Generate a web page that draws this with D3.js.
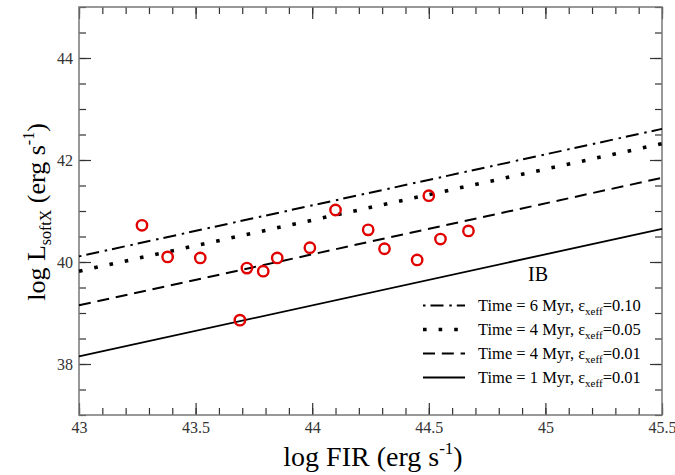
<!DOCTYPE html>
<html>
<head>
<meta charset="utf-8">
<script src="https://cdn.jsdelivr.net/npm/d3@7"></script>
<style>
  html, body { margin: 0; padding: 0; background: #fff; }
  svg { display: block; }
  text { font-family: "Liberation Serif", "DejaVu Serif", serif; }
</style>
</head>
<body>
<svg id="chart" width="675" height="475"></svg>
<script>
// Observed galaxies: log FIR vs log soft X-ray luminosity
const logFIR = [43.27, 43.38, 43.52, 43.72, 43.79, 43.85, 43.99, 44.10, 44.24, 44.31, 44.45, 44.50, 44.55, 44.67, 43.69];
const logLx  = [40.72, 40.10, 40.08, 39.88, 39.82, 40.08, 40.28, 41.02, 40.63, 40.26, 40.04, 41.30, 40.45, 40.61, 38.86];

// Instantaneous-burst models: log Lx = log FIR + offset
const modelLabels  = ["Time = 6 Myr, ", "Time = 4 Myr, ", "Time = 4 Myr, ", "Time = 1 Myr, "];
const modelEff     = ["0.10", "0.05", "0.01", "0.01"];
const modelOffsets = [-2.89, -3.18, -3.85, -4.85];
const modelStyles  = ["dashdot", "dotted", "dashed", "solid"];

const xTicks = [43, 43.5, 44, 44.5, 45, 45.5];
const xTickLabels = ["43", "43.5", "44", "44.5", "45", "45.5"];
const yTicks = [38, 40, 42, 44];
const yTickLabels = ["38", "40", "42", "44"];

const svg = d3.select("#chart");
const L = 79, R = 662, T = 7, B = 415;

const x = d3.scaleLinear().domain([43, 45.5]).range([L, R]);
const y = d3.scaleLinear().domain([37, 45]).range([B, T]);

const dashes = {
  dashdot: { w: 2, dash: "2.5,5,13,5.8" },
  dotted:  { w: 3.6, dash: "3.6,12" },
  dashed:  { w: 2, dash: "12,6.8" },
  solid:   { w: 1.8, dash: null }
};

// Axes with inward ticks on all sides
const tickCol = "#333", frameCol = "#777";
const xMinor = d3.range(43, 45.5001, 0.1).map(v => +v.toFixed(2));
const yMinor = d3.range(37, 45.001, 0.5);

function mkAxis(axisFn, scale, ticks, len, fmt) {
  return axisFn(scale).tickValues(ticks).tickSize(-len).tickSizeOuter(0).tickFormat(fmt || "");
}

const gx = svg.append("g").attr("transform", `translate(0,${B})`);
gx.call(mkAxis(d3.axisBottom, x, xMinor, 7));
const gx2 = svg.append("g").attr("transform", `translate(0,${B})`);
gx2.call(mkAxis(d3.axisBottom, x, xTicks, 12, (d, i) => xTickLabels[i]));
const gxt = svg.append("g").attr("transform", `translate(0,${T})`);
gxt.call(mkAxis(d3.axisTop, x, xMinor, 7));
const gxt2 = svg.append("g").attr("transform", `translate(0,${T})`);
gxt2.call(mkAxis(d3.axisTop, x, xTicks, 12));

const gy = svg.append("g").attr("transform", `translate(${L},0)`);
gy.call(mkAxis(d3.axisLeft, y, yMinor, 7));
const gy2 = svg.append("g").attr("transform", `translate(${L},0)`);
gy2.call(mkAxis(d3.axisLeft, y, yTicks, 12, (d, i) => yTickLabels[i]));
const gyr = svg.append("g").attr("transform", `translate(${R},0)`);
gyr.call(mkAxis(d3.axisRight, y, yMinor, 7));
const gyr2 = svg.append("g").attr("transform", `translate(${R},0)`);
gyr2.call(mkAxis(d3.axisRight, y, yTicks, 12));

svg.selectAll(".domain").remove();
svg.selectAll(".tick line").attr("stroke", tickCol).attr("stroke-width", 1.2);
svg.selectAll("g").attr("font-family", null);
svg.selectAll(".tick text").attr("fill", "#333").attr("font-size", 16);
gx2.selectAll(".tick text").attr("y", 0).attr("dy", 0).attr("transform", "translate(0,18)");
gy2.selectAll(".tick text").attr("x", -6).attr("dy", "0.34em");

// Frame
svg.append("rect").attr("x", L).attr("y", T).attr("width", R - L).attr("height", B - T)
  .attr("fill", "none").attr("stroke", frameCol).attr("stroke-width", 1.5);

// Model lines
const line = d3.line().x(d => x(d[0])).y(d => y(d[1]));
modelOffsets.forEach((c, i) => {
  const st = dashes[modelStyles[i]];
  const pts = [[43, 43 + c], [45.5, 45.5 + c]];
  svg.append("path").attr("d", line(pts)).attr("fill", "none")
    .attr("stroke", "#000").attr("stroke-width", st.w)
    .attr("stroke-dasharray", st.dash);
});

// Data points
svg.append("g").selectAll("circle").data(logFIR).join("circle")
  .attr("cx", d => x(d)).attr("cy", (d, i) => y(logLx[i])).attr("r", 5.2)
  .attr("fill", "none").attr("stroke", "#e00000").attr("stroke-width", 2.4);

// Panel tag
svg.append("text").attr("x", 538).attr("y", 281).attr("text-anchor", "middle")
  .attr("font-size", 20).attr("fill", "#000").text("IB");

// Legend
const lg = svg.append("g");
modelLabels.forEach((lab, i) => {
  const yy = 305.5 + i * 24;
  const st = dashes[modelStyles[i]];
  lg.append("line").attr("x1", 423).attr("x2", 465).attr("y1", yy).attr("y2", yy)
    .attr("stroke", "#000").attr("stroke-width", st.w).attr("stroke-dasharray", st.dash);
  const t = lg.append("text").attr("x", 478).attr("y", yy + 5.5).attr("font-size", 16.5).attr("fill", "#000");
  t.append("tspan").text(lab + "\u03b5");
  t.append("tspan").attr("font-size", 11).attr("dy", 4).text("xeff");
  t.append("tspan").attr("dy", -4).text("=" + modelEff[i]);
});

// Axis titles
const xt = svg.append("text").attr("x", 373).attr("y", 466).attr("text-anchor", "middle")
  .attr("font-size", 28).attr("fill", "#000");
xt.append("tspan").text("log FIR (erg s");
xt.append("tspan").attr("font-size", 17).attr("dy", -12).text("-1");
xt.append("tspan").attr("dy", 12).text(")");

const yt = svg.append("text").attr("transform", "translate(45,212) rotate(-90)")
  .attr("text-anchor", "middle").attr("font-size", 26).attr("fill", "#000");
yt.append("tspan").text("log L");
yt.append("tspan").attr("font-size", 16).attr("dy", 6).text("softX");
yt.append("tspan").attr("dy", -6).text(" (erg s");
yt.append("tspan").attr("font-size", 16).attr("dy", -11).text("-1");
yt.append("tspan").attr("dy", 11).text(")");
</script>
</body>
</html>
